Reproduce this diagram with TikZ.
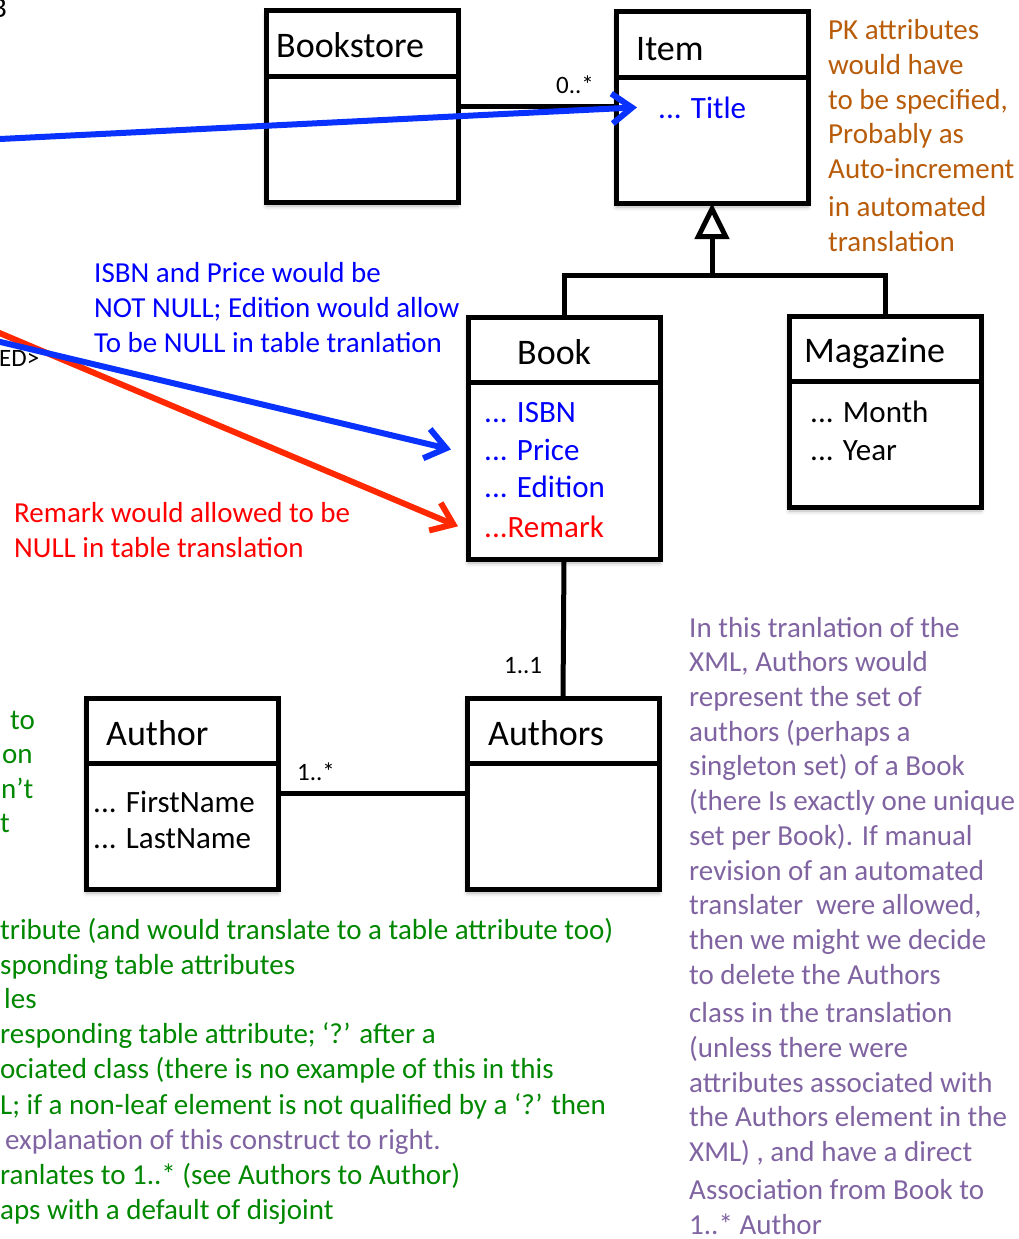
\documentclass[tikz,border=0pt]{standalone}
\usepackage{fontspec}
\setmainfont{Carlito}
\usetikzlibrary{arrows.meta,shadows.blur}

\definecolor{arrowblue}{RGB}{10,50,255}
\definecolor{arrowred}{RGB}{255,40,0}
\definecolor{textblue}{RGB}{0,0,255}
\definecolor{textred}{RGB}{255,0,0}
\definecolor{notebrown}{RGB}{184,92,10}
\definecolor{notegreen}{RGB}{0,135,0}
\definecolor{notepurple}{RGB}{128,100,162}

\begin{document}
\begin{tikzpicture}[x=1pt,y=-1pt,
  umlbox/.style={draw,line width=5pt,fill=white,inner sep=0,outer sep=0,
    minimum width=192pt,minimum height=191pt,anchor=north west,
    blur shadow={shadow xshift=0pt,shadow yshift=-4pt,shadow blur radius=4pt,shadow opacity=30}},
  umlline/.style={line width=5pt},
  classname/.style={font=\fontsize{36}{43}\selectfont,anchor=base west,inner sep=0},
  attr/.style={font=\fontsize{31}{37}\selectfont,anchor=base west,inner sep=0},
  mult/.style={font=\fontsize{25}{30}\selectfont,anchor=base west,inner sep=0},
  note/.style={font=\fontsize{29}{34.7}\selectfont,align=left,anchor=base west,inner sep=0},
  pointer/.style={line width=6pt,-{Straight Barb[length=20pt,width=30pt]}}]

  \useasboundingbox (0,0) rectangle (1019,1239);
  \clip (0,0) rectangle (1019,1239);

  % class boxes
  \node[umlbox] (bookstore) at (266,11) {};
  \node[umlbox] (item) at (616,12) {};
  \node[umlbox,minimum height=242pt] (book) at (468,317) {};
  \node[umlbox] (magazine) at (789,316) {};
  \node[umlbox] (authors) at (467,698) {};
  \node[umlbox] (author) at (86,698) {};
  \foreach \c in {bookstore,item,book,magazine,author,authors}
    \draw[umlline] ([yshift=-65pt]\c.north west) -- ([yshift=-65pt]\c.north east);

  % associations and generalisation
  \draw[umlline] (bookstore.east |- 0,106) -- (item.west |- 0,106);
  \draw[umlline] (book.south) -- (authors.north);
  \draw[umlline] (author.east) -- (authors.west);
  \coordinate (genjoin) at (item.south |- 0,275);
  \draw[umlline] (book.north) |- (magazine.north |- genjoin) -- (magazine.north);
  \draw[umlline,-{Triangle[open,length=36pt,width=34pt]}] (genjoin) -- (item.south);

  % class names and attributes
  \node[classname] (bookstorename) at (276,58) {Bookstore};
  \node[classname] (itemname) at (636,60) {Item};
  \node[classname] (bookname) at (517,364) {Book};
  \node[classname] (magazinename) at (804,362) {Magazine};
  \node[classname] (authorsname) at (488,745) {Authors};
  \node[classname] (authorname) at (106,745) {Author};

  \node[attr,textblue] (title) at (658,118) {... Title};
  \node[attr,textblue] (isbn) at (484,422) {... ISBN};
  \node[attr,textblue] (price) at (484,460) {... Price};
  \node[attr,textblue] (edition) at (484,497) {... Edition};
  \node[attr,textred] (remark) at (484,537) {...Remark};
  \node[attr] (month) at (810,422) {... Month};
  \node[attr] (year) at (810,460) {... Year};
  \node[attr] (firstname) at (93,812) {... FirstName};
  \node[attr] (lastname) at (93,848) {... LastName};

  % multiplicities
  \node[mult] (mstore) at (556,93) {0..*};
  \node[mult] (mbook) at (504,673) {1..1};
  \node[mult] (mauthor) at (297,780) {1..*};

  % cut-off text at the left edge
  \node[mult,font=\fontsize{29}{35}\selectfont] (topleft) at (-9,18) {B};
  \node[mult] (required) at (-1,366) {ED>};
  \foreach \x/\y/\t in {10/729/to, 2/763/on, 1/798/n’t, 0/832/t}
    \node[note,notegreen] at (\x,\y) {\t};

  % notes (base anchor = last line)
  \node[note,notebrown] (pknote) at (828,251) {PK attributes\\would have\\to be specified,\\Probably as\\Auto-increment\\[3pt]in automated\\translation};
  \node[note,textblue] (nullnote) at (94,352) {ISBN and Price would be\\NOT NULL; Edition would allow\\To be NULL in table tranlation};
  \node[note,textred] (remarknote) at (14,557) {Remark would allowed to be\\NULL in table translation};
  \node[note,notegreen] (rules) at (0,1219) {tribute (and would translate to a table attribute too)\\
    sponding table attributes\\
    \hspace{4pt}les\\
    responding table attribute; ‘?’ after a\\
    ociated class (there is no example of this in this\\[2pt]
    L; if a non-leaf element is not qualified by a ‘?’ then\\
    \hspace{5pt}{\color{notepurple}explanation of this construct to right.}\\
    ranlates to 1..* (see Authors to Author)\\
    aps with a default of disjoint};
  \node[note,notepurple] (authorsnote) at (689,1234) {In this tranlation of the\\XML, Authors would\\represent the set of\\authors (perhaps a\\singleton set) of a Book\\(there Is exactly one unique\\set per Book). If manual\\revision of an automated\\translater\ \ were allowed,\\then we might we decide\\to delete the Authors\\[4pt]class in the translation\\(unless there were\\attributes associated with\\the Authors element in the\\XML) , and have a direct\\[3pt]Association from Book to\\1..* Author};

  % pointers from the xml side
  \coordinate (titlefrom) at (-10,139.5);
  \coordinate (pricefrom) at (-10,339.5);
  \coordinate (remarkfrom) at (-10,329);
  \draw[pointer,arrowblue] (titlefrom) -- ([xshift=-21pt]title.west);
  \draw[pointer,arrowred] (remarkfrom) -- ([xshift=-26pt]remark.west);
  \draw[pointer,arrowblue] (pricefrom) -- ([xshift=-33pt]price.west);
\end{tikzpicture}
\end{document}
